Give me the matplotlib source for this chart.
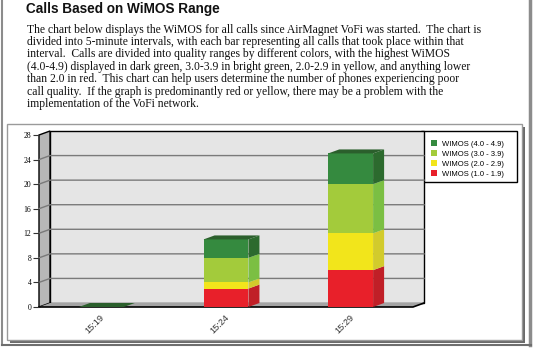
import matplotlib
matplotlib.use('Agg')
import matplotlib.pyplot as plt
from matplotlib.patches import Rectangle, Polygon

# values (calls per WiMOS range)
times = ['15:19', '15:24', '15:29']
wimos_low = [0, 3, 6]      # 1.0 - 1.9 red
wimos_mid = [0, 1, 6]      # 2.0 - 2.9 yellow
wimos_good = [0, 4, 8]     # 3.0 - 3.9 bright green
wimos_best = [0, 3, 5]     # 4.0 - 4.9 dark green
y_ticks = [0, 4, 8, 12, 16, 20, 24, 28]
legend_labels = ['WIMOS (4.0 - 4.9)', 'WIMOS (3.0 - 3.9)',
                 'WIMOS (2.0 - 2.9)', 'WIMOS (1.0 - 1.9)']

title = 'Calls Based on WiMOS Range'
paragraph = [
    'The chart below displays the WiMOS for all calls since AirMagnet VoFi was started.  The chart is',
    'divided into 5-minute intervals, with each bar representing all calls that took place within that',
    'interval.  Calls are divided into quality ranges by different colors, with the highest WiMOS',
    '(4.0-4.9) displayed in dark green, 3.0-3.9 in bright green, 2.0-2.9 in yellow, and anything lower',
    'than 2.0 in red.  This chart can help users determine the number of phones experiencing poor',
    'call quality.  If the graph is predominantly red or yellow, there may be a problem with the',
    'implementation of the VoFi network.',
]

W, H = 533, 348
fig = plt.figure(figsize=(W / 100, H / 100), dpi=100)

# background axes in pixel coordinates for page frame, text and panel
bg = fig.add_axes([0, 0, 1, 1])
bg.set_xlim(0, W)
bg.set_ylim(H, 0)
bg.axis('off')

bg.plot([2, 2], [0, 345], color='#8c8c8c', lw=1.5)
bg.plot([530, 530], [0, 345], color='#8c8c8c', lw=2.5)
bg.plot([2, 531], [344.5, 344.5], color='#6e6e6e', lw=1.5)

bg.add_patch(Rectangle((10, 127), 515, 216, fc='#6a6a6a', ec='none'))
bg.add_patch(Rectangle((7, 124), 515, 216, fc='white', ec='#9a9a9a', lw=1))

bg.text(26, 8.5, title, fontsize=9.8, fontweight='bold', family='Liberation Sans',
        va='center', ha='left', color='#111111')
line_y = [29.5, 42, 54.5, 67, 79, 91.5, 104]
for y, line in zip(line_y, paragraph):
    bg.text(27, y, line, fontsize=8.4, family='Liberation Serif', va='center',
            ha='left', color='#111111')

# chart axes = front plane of the 3D chart
left, right, top, bottom = 39, 413, 135, 307
ax = fig.add_axes([left / W, 1 - bottom / H, (right - left) / W, (bottom - top) / H])
ax.set_xlim(-0.5, 2.5)
ax.set_ylim(0, 28)
ax.patch.set_alpha(0)
for s in ax.spines.values():
    s.set_visible(False)

# depth offset of the 3D look, in data units
dx = 11 / (right - left) * 3
dy = 4 / (bottom - top) * 28

ax.add_patch(Rectangle((-0.5 + dx, dy), 3, 28, fc='#e5e5e5', ec='black', lw=1,
                       clip_on=False, zorder=0))
ax.add_patch(Polygon([(-0.5, 0), (-0.5, 28), (-0.5 + dx, 28 + dy), (-0.5 + dx, dy)],
                     closed=True, fc='#b7b7b7', ec='black', lw=1, clip_on=False, zorder=0.5))
ax.add_patch(Polygon([(-0.5, 0), (2.5, 0), (2.5 + dx, dy), (-0.5 + dx, dy)],
                     closed=True, fc='#a4a4a4', ec='none', clip_on=False, zorder=0.6))
ax.plot([-0.5, 2.5, 2.5 + dx], [0, 0, dy], color='black', lw=1.2, clip_on=False, zorder=0.7)

for t in y_ticks[1:-1]:
    ax.plot([-0.5, -0.5 + dx, 2.5 + dx], [t, t + dy, t + dy], color='#7a7a7a', lw=1,
            clip_on=False, zorder=0.8)

segments = [
    (wimos_low, '#e8202a', '#c01f27'),
    (wimos_mid, '#f2e51b', '#d2cb2c'),
    (wimos_good, '#a3cb3b', '#7bbf43'),
    (wimos_best, '#358a3f', '#2c6a2e'),
]
top_color = '#2b5f2c'
bw = 0.36

x = list(range(len(times)))
bottoms = [0] * len(times)
for vals, front, side in segments:
    ax.bar(x, vals, width=bw, bottom=bottoms, color=front, zorder=2)
    for i in x:
        b, h = bottoms[i], vals[i]
        if h > 0:
            xr = i + bw / 2
            ax.add_patch(Polygon([(xr, b), (xr, b + h), (xr + dx, b + h + dy), (xr + dx, b + dy)],
                                 closed=True, fc=side, ec='none', zorder=2, clip_on=False))
    bottoms = [b + v for b, v in zip(bottoms, vals)]

for i in x:
    tp = bottoms[i]
    ax.add_patch(Polygon([(i - bw / 2, tp), (i + bw / 2, tp), (i + bw / 2 + dx, tp + dy),
                          (i - bw / 2 + dx, tp + dy)],
                         closed=True, fc=top_color, ec='none', zorder=2.5, clip_on=False))

ax.set_yticks(y_ticks)
ax.set_yticklabels([str(t) for t in y_ticks], fontsize=5.5, family='Liberation Serif')
ax.tick_params(axis='y', length=4, width=0.8, pad=1.5, color='#333333')
ax.set_xticks([])
for i, t in enumerate(times):
    ax.text(i + 0.04, -1.0, t, rotation=45, ha='right', va='top', fontsize=6.6,
            family='Liberation Sans', color='#333333')

# legend
bg.add_patch(Rectangle((421, 131), 96, 51, fc='white', ec='black', lw=1, zorder=5))
handles = [Rectangle((0, 0), 1, 1, fc=c) for c in ['#358a3f', '#a3cb3b', '#f2e51b', '#e8202a']]
fig.legend(handles, legend_labels, loc='upper left', bbox_to_anchor=(426 / W, 1 - 135 / H),
           frameon=False, prop={'family': 'Liberation Sans', 'size': 5.5},
           handlelength=0.75, handleheight=0.75, handletextpad=0.6, labelspacing=0.32,
           borderpad=0.2)

fig.savefig('out.png', dpi=100)
